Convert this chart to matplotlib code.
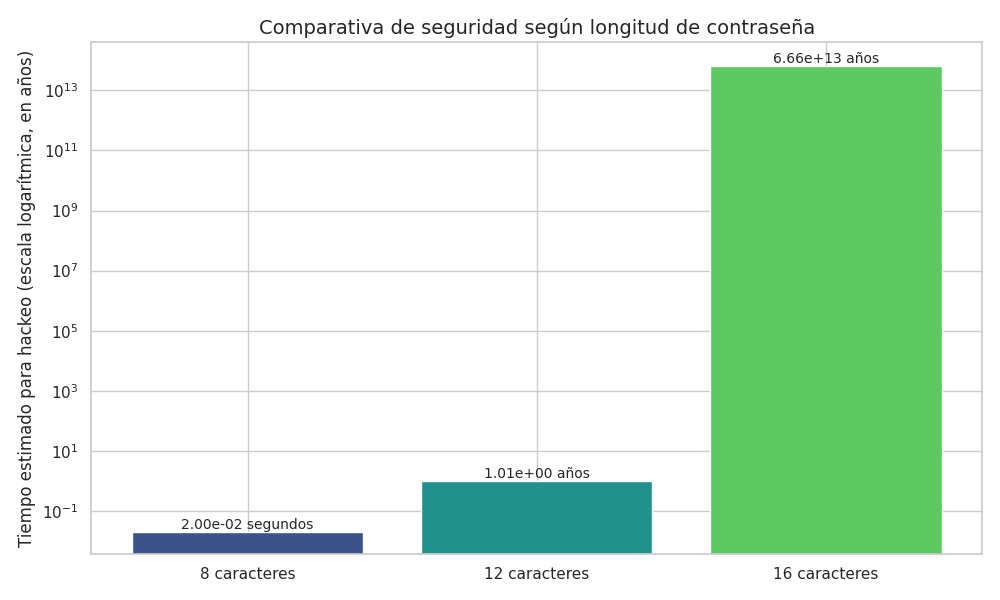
import matplotlib
matplotlib.use("Agg")
import matplotlib.pyplot as plt
import seaborn as sns

categorias = ["8 caracteres", "12 caracteres", "16 caracteres"]
tiempos = [2.00e-02, 1.01e+00, 6.66e+13]
etiquetas = ["2.00e-02 segundos", "1.01e+00 años", "6.66e+13 años"]

sns.set_theme(style="whitegrid")
colores = sns.color_palette("viridis", 3)

fig, ax = plt.subplots(figsize=(10, 6))
barras = ax.bar(categorias, tiempos, color=colores)
ax.set_yscale("log")
ax.set_ylim(3.7e-3, 4e14)

for b, txt in zip(barras, etiquetas):
    ax.text(b.get_x() + b.get_width() / 2, b.get_height(), txt,
            ha="center", va="bottom", fontsize=10)

ax.set_title("Comparativa de seguridad según longitud de contraseña", fontsize=14)
ax.set_ylabel("Tiempo estimado para hackeo (escala logarítmica, en años)", fontsize=12)

plt.tight_layout()
plt.savefig("out.png", dpi=100)
